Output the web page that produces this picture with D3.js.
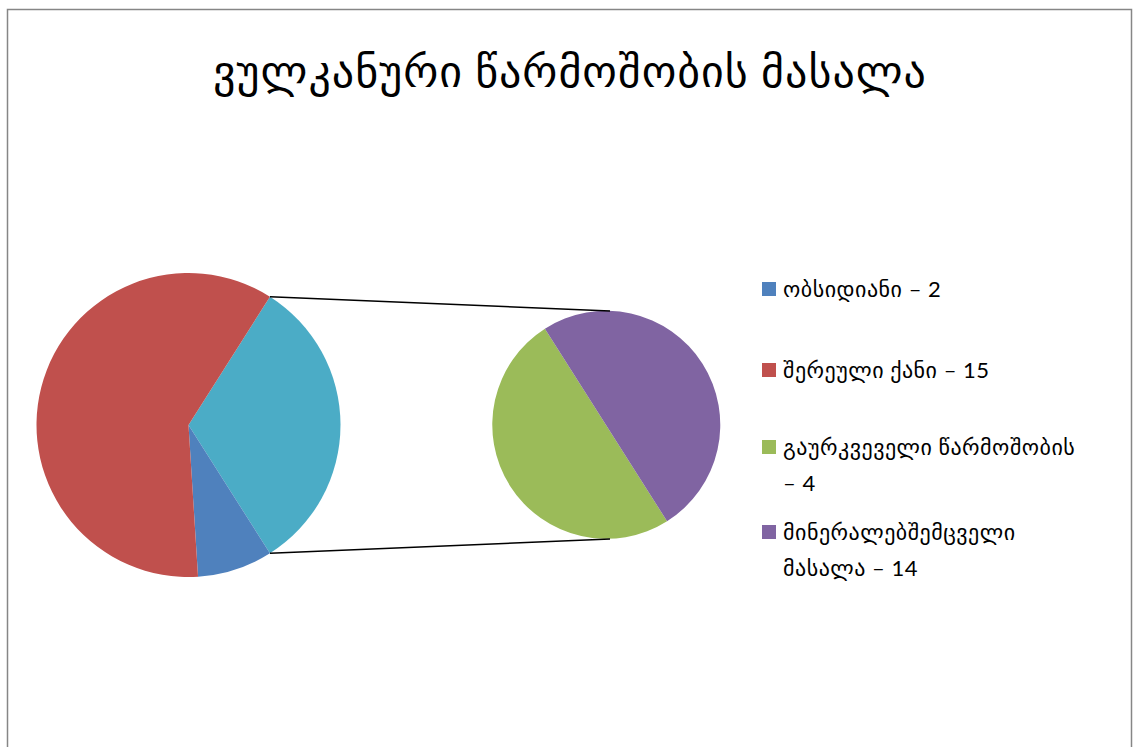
<!DOCTYPE html>
<html>
<head>
<meta charset="utf-8">
<script src="https://cdn.jsdelivr.net/npm/d3@7"></script>
<style>
  body { margin: 0; background: #fff; }
  svg { display: block; }
</style>
</head>
<body>
<div id="piechart"></div>
<script>
const title = "ვულკანური წარმოშობის მასალა";
// main pie: first two categories + "other" slice that is split in the second pie
const mainLabels = ["ობსიდიანი – 2", "შერეული ქანი – 15"];
const mainValues = [2, 15];
const subLabels = ["გაურკვეველი წარმოშობის – 4", "მინერალებშემცველი მასალა – 14"];
const subValues = [4, 4];
const mainColors = ["#4F81BD", "#C0504D"];
const otherColor = "#4BACC6";
const subColors = ["#9BBB59", "#8064A2"];

const fontFamily = "Lato, 'DejaVu Sans', sans-serif";

const wrapText = (text, maxWidth) => {
  text.each(function () {
    const t = d3.select(this);
    // keep the dash together with the number after it
    const words = [];
    t.text().split(" ").forEach((w, i, arr) => {
      if (i > 0 && arr[i - 1] === "–") words[words.length - 1] += " " + w;
      else words.push(w);
    });
    const x = t.attr("x");
    t.text(null);
    let line = [];
    let tspan = t.append("tspan").attr("x", x).attr("dy", 0);
    words.forEach((w) => {
      line.push(w);
      tspan.text(line.join(" "));
      if (tspan.node().getComputedTextLength() > maxWidth && line.length > 1) {
        line.pop();
        tspan.text(line.join(" "));
        line = [w];
        tspan = t.append("tspan").attr("x", x).attr("dy", 36).text(w);
      }
    });
  });
};

const drawChart = (svg) => {
  const height = 747;

  svg.append("rect")
    .attr("x", 7.5)
    .attr("y", 9.5)
    .attr("width", 1124)
    .attr("height", height + 20)
    .attr("fill", "#fff")
    .attr("stroke", "#868686")
    .attr("stroke-width", 1.5);

  svg.append("text")
    .attr("x", 570)
    .attr("y", 87)
    .attr("text-anchor", "middle")
    .attr("font-family", fontFamily)
    .attr("font-size", 44)
    .attr("letter-spacing", 1)
    .attr("fill", "#000")
    .text(title);

  const otherTotal = d3.sum(subValues);
  const mainData = mainValues.map((v, i) => ({ label: mainLabels[i], value: v, color: mainColors[i] }));
  mainData.unshift({ label: "other", value: otherTotal, color: otherColor });

  // "other" slice is centred on 90deg (pointing at the second pie)
  const total = d3.sum(mainData, (d) => d.value);
  const otherAngle = (otherTotal / total) * 2 * Math.PI;
  const start = Math.PI / 2 - otherAngle / 2;

  const cx1 = 188.5, cy1 = 425, r1 = 152;
  const cx2 = 606, cy2 = 425, r2 = 114;

  const pie1 = d3.pie()
    .value((d) => d.value)
    .sort(null)
    .startAngle(start)
    .endAngle(start + 2 * Math.PI);
  const arcs1 = pie1(mainData);
  const arc1 = d3.arc().innerRadius(0).outerRadius(r1);

  svg.append("g")
    .attr("transform", `translate(${cx1},${cy1})`)
    .selectAll("path")
    .data(arcs1)
    .join("path")
    .attr("d", arc1)
    .attr("fill", (d) => d.data.color);

  const endAngle = start + otherAngle;
  const pie2 = d3.pie()
    .sort(null)
    .startAngle(endAngle)
    .endAngle(endAngle + 2 * Math.PI);
  const arcs2 = pie2(subValues);
  const arc2 = d3.arc().innerRadius(0).outerRadius(r2);

  svg.append("g")
    .attr("transform", `translate(${cx2},${cy2})`)
    .selectAll("path")
    .data(arcs2)
    .join("path")
    .attr("d", arc2)
    .attr("fill", (d, i) => subColors[i]);

  // connector lines
  const pt = (cx, cy, r, a) => [cx + r * Math.sin(a), cy - r * Math.cos(a)];
  const lines = [
    [pt(cx1, cy1, r1, start), pt(cx2 + 4, cy2, r2, 0)],
    [pt(cx1, cy1, r1, endAngle), pt(cx2 + 4, cy2, r2, Math.PI)],
  ];
  svg.append("g")
    .selectAll("line")
    .data(lines)
    .join("line")
    .attr("x1", (d) => d[0][0])
    .attr("y1", (d) => d[0][1])
    .attr("x2", (d) => d[1][0])
    .attr("y2", (d) => d[1][1])
    .attr("stroke", "#000")
    .attr("stroke-width", 1.5);

  // legend
  const legendData = mainLabels.map((l, i) => ({ label: l, color: mainColors[i] }))
    .concat(subLabels.map((l, i) => ({ label: l, color: subColors[i] })));
  const legendY = [297, 378, 455, 540];

  const legend = svg.append("g")
    .selectAll("g")
    .data(legendData)
    .join("g")
    .attr("transform", (d, i) => `translate(762,${legendY[i]})`);

  legend.append("rect")
    .attr("x", 0)
    .attr("y", -15)
    .attr("width", 14)
    .attr("height", 14)
    .attr("fill", (d) => d.color);

  legend.append("text")
    .attr("x", 21)
    .attr("y", 0)
    .attr("font-family", fontFamily)
    .attr("font-size", 22)
    .attr("letter-spacing", 0.5)
    .attr("fill", "#000")
    .text((d) => d.label)
    .call(wrapText, 315);
};

const svg = d3.select("#piechart")
  .append("svg")
  .attr("width", 1135)
  .attr("height", 747);
drawChart(svg);
</script>
</body>
</html>
